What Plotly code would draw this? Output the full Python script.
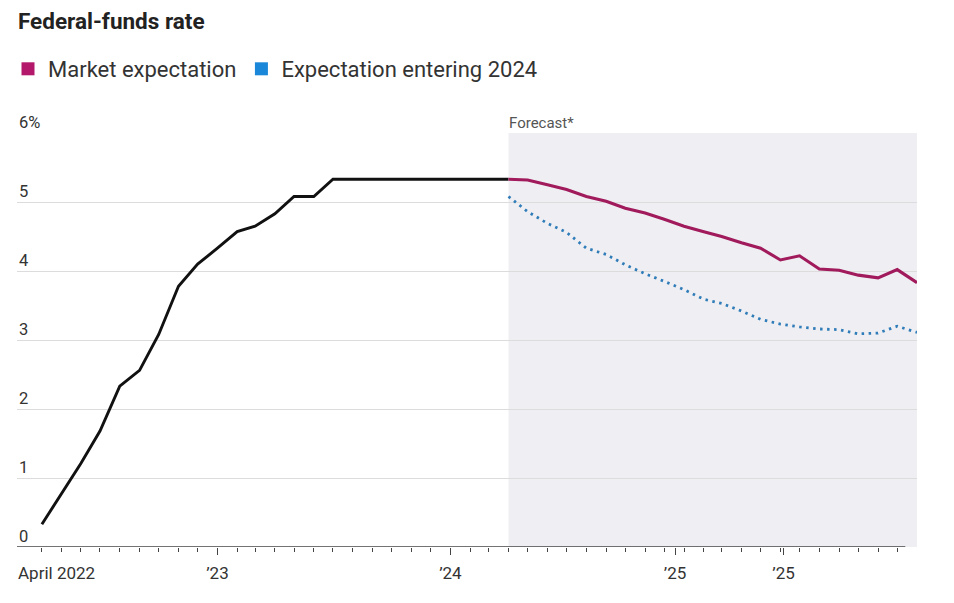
import pandas as pd
import plotly.graph_objects as go

# ---------------- data ----------------
hist_dates = pd.date_range("2022-04-01", "2024-04-01", freq="MS")
hist_rate = [0.33, 0.77, 1.21, 1.68, 2.33, 2.56, 3.08, 3.78, 4.10,
             4.33, 4.57, 4.65, 4.83, 5.08, 5.08, 5.33, 5.33, 5.33,
             5.33, 5.33, 5.33, 5.33, 5.33, 5.33, 5.33]

fc_dates = pd.date_range("2024-04-01", "2026-01-01", freq="MS")
market_expectation = [5.33, 5.32, 5.25, 5.18, 5.08, 5.01, 4.91, 4.84, 4.75,
                      4.65, 4.57, 4.50, 4.41, 4.33, 4.16, 4.22, 4.03, 4.01,
                      3.94, 3.90, 4.02, 3.83]
expectation_2024 = [5.08, 4.86, 4.69, 4.56, 4.33, 4.24, 4.09, 3.96, 3.85,
                    3.73, 3.59, 3.53, 3.42, 3.30, 3.23, 3.19, 3.16, 3.15,
                    3.09, 3.10, 3.20, 3.11]

y_ticks = [0, 1, 2, 3, 4, 5, 6]
y_tick_text = ["0", "1", "2", "3", "4", "5", "6%"]
x_tick_vals = ["2023-01-01", "2024-01-01", "2024-12-18", "2025-06-06"]
x_tick_text = ["\u201923", "\u201924", "\u201925", "\u201925"]
minor_ticks = pd.date_range("2022-04-01", "2025-12-01", freq="MS")
x_range = ["2022-02-21", "2026-01-01"]
forecast_start = "2024-04-01"

FONT = "Roboto"
TEXT = "#333333"
MAGENTA = "#a01a5c"
BLUE = "#2f7cb8"

fig = go.Figure()

fig.add_trace(go.Scatter(x=hist_dates, y=hist_rate, mode="lines",
                         line=dict(color="#111111", width=2.9),
                         showlegend=False, hoverinfo="skip"))
fig.add_trace(go.Scatter(x=fc_dates, y=expectation_2024, mode="lines",
                         line=dict(color=BLUE, width=2.8, dash="2.5px,4.5px"),
                         showlegend=False, hoverinfo="skip"))
fig.add_trace(go.Scatter(x=fc_dates, y=market_expectation, mode="lines",
                         line=dict(color=MAGENTA, width=3.1),
                         showlegend=False, hoverinfo="skip"))

# legend entries (square swatches)
fig.add_trace(go.Scatter(x=[None], y=[None], mode="markers", name="Market expectation",
                         marker=dict(symbol="square", size=13, color="#b3186b")))
fig.add_trace(go.Scatter(x=[None], y=[None], mode="markers", name="Expectation entering 2024",
                         marker=dict(symbol="square", size=13, color="#1b87d8")))

# forecast shading
fig.add_shape(type="rect", xref="x", yref="y", x0=forecast_start, x1=x_range[1],
              y0=0, y1=6, fillcolor="#efeff3", line=dict(width=0), layer="below")

# x axis baseline (stops just short of the right edge)
fig.add_shape(type="line", xref="paper", yref="y", x0=0, x1=0.987, y0=0, y1=0,
              line=dict(color="#444444", width=1.5), layer="above")

# y tick labels above gridlines
for v, t in zip(y_ticks, y_tick_text):
    fig.add_annotation(x=0, xref="paper", xanchor="left", y=v, yref="y",
                       yanchor="bottom", yshift=-1, text=t, showarrow=False,
                       font=dict(family=FONT, size=16.5, color=TEXT))

fig.add_annotation(x=forecast_start, xref="x", xanchor="left", xshift=-1, y=6, yref="y",
                   yanchor="bottom", yshift=-1, text="Forecast*", showarrow=False,
                   font=dict(family=FONT, size=15, color="#555555"))

fig.add_annotation(x=0, xref="paper", xanchor="left", xshift=-1, y=0, yref="y", yanchor="top",
                   yshift=-14, text="April 2022", showarrow=False,
                   font=dict(family=FONT, size=17, color=TEXT))

fig.update_layout(
    width=954, height=603,
    margin=dict(l=17, r=37, t=133, b=56, autoexpand=False),
    paper_bgcolor="white", plot_bgcolor="white",
    font=dict(family=FONT, color=TEXT),
    title=dict(text="<b>Federal-funds rate</b>", xref="container", yref="container",
               x=18 / 954, xanchor="left", y=1 - 21 / 603, yanchor="middle",
               font=dict(family=FONT, size=22.5, color="#222222")),
    legend=dict(orientation="h", xref="container", yref="container",
                x=8 / 954, xanchor="left", y=1 - 69 / 603, yanchor="middle",
                font=dict(family=FONT, size=22, color=TEXT),
                bgcolor="rgba(0,0,0,0)", itemclick=False, itemdoubleclick=False),
    xaxis=dict(type="date", range=x_range, showgrid=False, zeroline=False,
               showline=False, automargin=False,
               tickmode="array", tickvals=x_tick_vals, ticktext=x_tick_text,
               ticks="outside", ticklen=7, tickwidth=1.2, tickcolor="#444444",
               ticklabelstandoff=4,
               tickfont=dict(family=FONT, size=17, color=TEXT),
               minor=dict(tickmode="array", tickvals=list(minor_ticks), ticks="outside",
                          ticklen=4, tickwidth=1, tickcolor="#444444", showgrid=False)),
    yaxis=dict(range=[0, 6], tickvals=y_ticks, showticklabels=False, automargin=False,
               showgrid=True, gridcolor="#dcdcdc", gridwidth=1, zeroline=False,
               showline=False, ticks=""),
    hovermode=False,
)

fig.write_html("out.html", config={"displayModeBar": False},
               post_script="document.body.style.margin='0';document.body.style.overflow='hidden';")
